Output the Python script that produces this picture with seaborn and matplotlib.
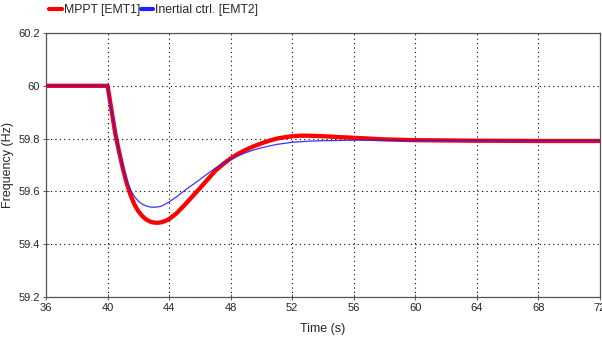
import matplotlib
matplotlib.use("Agg")
import matplotlib.pyplot as plt
import seaborn as sns
import pandas as pd

# ---- data ----
t_mppt = [36, 40, 40.25, 40.5, 40.75, 41, 41.25, 41.5, 41.75, 42, 42.25, 42.5, 42.75,
          43, 43.25, 43.5, 43.75, 44, 44.5, 45, 45.5, 46, 46.5, 47, 47.5, 48, 48.5,
          49, 49.5, 50, 50.5, 51, 51.5, 52, 52.5, 53, 54, 55, 56, 57, 58, 60, 64, 68, 72]
f_mppt = [60.0, 60.0, 59.91, 59.82, 59.75, 59.685, 59.63, 59.585, 59.55, 59.525, 59.507,
          59.494, 59.486, 59.482, 59.481, 59.483, 59.488, 59.495, 59.518, 59.548, 59.58,
          59.612, 59.645, 59.678, 59.703, 59.725, 59.743, 59.758, 59.771, 59.782, 59.792,
          59.800, 59.805, 59.809, 59.811, 59.811, 59.809, 59.806, 59.803, 59.800, 59.797,
          59.794, 59.792, 59.791, 59.791]

t_inert = [36, 40, 40.25, 40.5, 40.75, 41, 41.25, 41.5, 41.75, 42, 42.25, 42.5, 42.75,
           43, 43.25, 43.5, 44, 44.5, 45, 45.5, 46, 46.5, 47, 47.5, 48, 48.5, 49, 49.5,
           50, 50.5, 51, 52, 53, 54, 56, 58, 60, 72]
f_inert = [60.0, 60.0, 59.91, 59.82, 59.75, 59.69, 59.64, 59.605, 59.58, 59.563, 59.552,
           59.545, 59.541, 59.540, 59.541, 59.544, 59.560, 59.580, 59.603, 59.624, 59.645,
           59.667, 59.688, 59.706, 59.722, 59.735, 59.747, 59.757, 59.765, 59.772, 59.778,
           59.786, 59.790, 59.792, 59.794, 59.794, 59.793, 59.793]

series_names = ["MPPT [EMT1]", "Inertial ctrl. [EMT2]"]
x_ticks = [36, 40, 44, 48, 52, 56, 60, 64, 68, 72]
y_ticks = [59.2, 59.4, 59.6, 59.8, 60.0, 60.2]
y_tick_labels = ["59.2", "59.4", "59.6", "59.8", "60", "60.2"]

df_m = pd.DataFrame({"Time (s)": t_mppt, "Frequency (Hz)": f_mppt})
df_i = pd.DataFrame({"Time (s)": t_inert, "Frequency (Hz)": f_inert})

sns.set_style("white")
plt.rcParams["font.family"] = ["Liberation Sans", "DejaVu Sans"]

fig = plt.figure(figsize=(6.02, 3.39), dpi=100)
ax = fig.add_axes([46 / 602, 1 - 297 / 339, (600 - 46) / 602, (297 - 33) / 339])

sns.lineplot(data=df_m, x="Time (s)", y="Frequency (Hz)", ax=ax, color="#ff0000",
             linewidth=3.1, label=series_names[0], legend=False, zorder=3)
sns.lineplot(data=df_i, x="Time (s)", y="Frequency (Hz)", ax=ax, color="#2020ff",
             linewidth=0.9, label=series_names[1], legend=False, zorder=4, alpha=0.9)

ax.set_xlim(36, 72)
ax.set_ylim(59.2, 60.2)
ax.set_xticks(x_ticks)
ax.set_yticks(y_ticks)
ax.set_yticklabels(y_tick_labels)
ax.grid(True, color="black", linestyle=(0, (1, 3)), linewidth=0.8)
for s in ax.spines.values():
    s.set_color("#555555")
    s.set_linewidth(0.9)
ax.tick_params(axis="both", direction="inout", length=5, width=0.7, color="#555555",
               labelsize=8, pad=2, bottom=True, left=True)
ax.set_xlabel("Time (s)", fontsize=9)
ax.set_ylabel("Frequency (Hz)", fontsize=9)
ax.xaxis.set_label_coords(0.5, -0.1)
ax.yaxis.set_label_coords(-0.058, 0.5)

handles, labels = ax.get_legend_handles_labels()
leg = fig.legend(handles, labels, loc="upper left", bbox_to_anchor=(0.07, 1.01), ncol=2,
                 frameon=False, fontsize=8.8, handlelength=1.0, handletextpad=0.15,
                 columnspacing=0.1, borderaxespad=0.2)
for lh in leg.get_lines():
    lh.set_linewidth(3)
    lh.set_alpha(1)

fig.savefig("out.png", dpi=100)
